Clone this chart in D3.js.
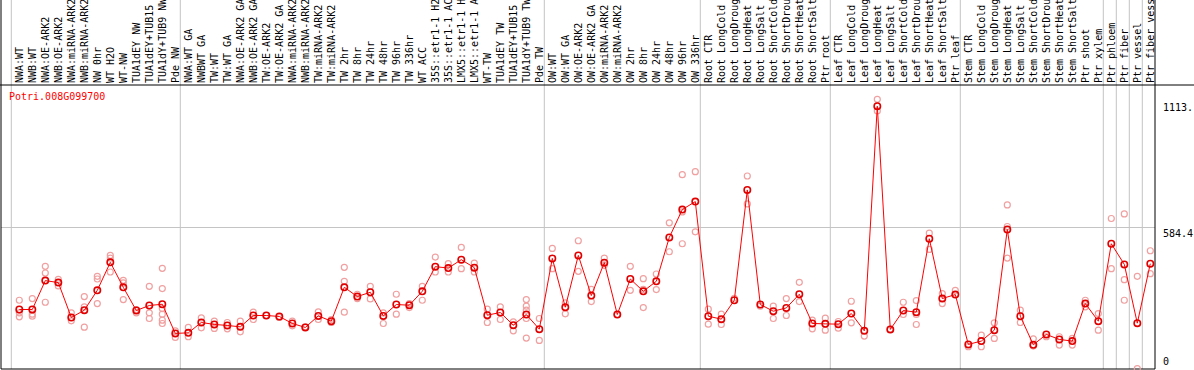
<!DOCTYPE html>
<html><head><meta charset="utf-8">
<script src="https://cdn.jsdelivr.net/npm/d3@7"></script>
<style>body{margin:0;background:#fff}svg{display:block}text{font-family:"DejaVu Sans Mono",monospace;font-size:10px}</style>
</head><body><svg id="c" width="1194" height="370"></svg>
<script>
const title = "Potri.008G099700";
const labels = ["NWA:WT","NWB:WT","NWA:OE-ARK2","NWB:OE-ARK2","NWA:miRNA-ARK2","NWB:miRNA-ARK2","NW 0hr","WT H2O","WT-NW","TUA1dEY NW","TUA1dEY+TUB15","TUA1dY+TUB9 NW","Pde NW",
"NWA:WT GA","NWBWT GA","TW:WT","TW:WT GA","NWA:OE-ARK2 GA","NWB:OE-ARK2 GA","TW:OE-ARK2","TW:OE-ARK2 GA","NWA:miRNA-ARK2","NWB:miRNA-ARK2","TW:miRNA-ARK2","TW:miRNA-ARK2","TW 2hr","TW 8hr","TW 24hr","TW 48hr","TW 96hr","TW 336hr","WT ACC","35S::etr1-1 H2","35S::etr1-1 AC","LMX5::etr1-1 H","LMX5::etr1-1 A","WT-TW","TUA1dEY TW","TUA1dEY+TUB15","TUA1dY+TUB9 TW","Pde TW",
"OW:WT","OW:WT GA","OW:OE-ARK2","OW:OE-ARK2 GA","OW:miRNA-ARK2","OW:miRNA-ARK2","OW 2hr","OW 8hr","OW 24hr","OW 48hr","OW 96hr","OW 336hr",
"Root CTR","Root LongCold","Root LongDroug","Root LongHeat","Root LongSalt","Root ShortCold","Root ShortDrou","Root ShortHeat","Root ShortSalt","Ptr root",
"Leaf CTR","Leaf LongCold","Leaf LongDroug","Leaf LongHeat","Leaf LongSalt","Leaf ShortCold","Leaf ShortDrou","Leaf ShortHeat","Leaf ShortSalt","Ptr leaf",
"Stem CTR","Stem LongCold","Stem LongDroug","Stem LongHeat","Stem LongSalt","Stem ShortCold","Stem ShortDrou","Stem ShortHeat","Stem ShortSalt","Ptr shoot","Ptr xylem","Ptr phloem","Ptr fiber","Ptr vessel","Ptr fiber vess"];
const means = [245.7,245.7,365.1,356.8,212.8,242.8,325.1,440.4,337.5,241.6,262.2,267.5,146.9,
149.4,192.2,184.0,179.9,174.1,221.0,221.0,216.9,188.1,171.6,219.4,197.5,337.5,299.2,316.9,219.4,266.3,263.4,321.0,422.7,416.9,451.5,418.6,222.2,233.4,181.1,225.1,164.6,
456.8,255.2,469.2,303.3,439.1,225.1,371.6,321.0,362.2,543.3,658.5,691.4,
218.1,205.8,284.0,739.6,266.3,238.7,252.3,308.7,188.1,186.4,
185.2,229.2,157.6,1085.3,163.4,241.6,234.6,537.9,291.0,307.4,
101.7,115.2,160.5,576.2,218.1,100.0,142.8,122.2,115.2,270.4,197.5,517.3,432.1,189.3,435.0];
const replicates = [[284.0,231.8,215.4],[290.8,226.4,218.1],[423.9,396.5,275.7],[370.4,343.0],[231.8,198.9],[299.0,256.6,172.9],[382.8,371.8,270.2],[469.2,458.2,400.6],[366.3,355.3,286.7],[245.5,231.8],[341.6,231.8,208.5],[415.7,332.0,249.6,226.4,201.7,187.9],[157.8,130.3],
[171.5,133.1],[211.2,170.1],[197.5,167.4],[192.1,166.0],[197.5,153.6],[234.6,204.4],[220.9],[212.7],[197.5,178.3],[174.2],[236.0,204.4],[204.4,192.1],[419.8,362.2,234.6],[308.7,290.8],[341.6,289.5],[231.8,187.9],[308.7,226.4],[270.2,253.8],[341.6,284.0],[462.3,400.6],[434.9,400.6],[502.1,414.3],[437.6,400.6],[246.9,192.1],[256.6,204.4],[194.8,157.8],[286.7,259.3,242.8,208.5,127.6],[208.5,118.0],
[498.0,414.3],[273.0,227.7],[529.6,403.3],[329.2,278.5],[458.2,428.0],[225.0],[423.9,325.1],[373.1,329.2,253.8],[392.3,327.9],[603.6,484.3],[802.5,648.9,517.2],[814.9,566.6],
[246.9,185.2],[226.4,183.8],[292.2],[797.1,681.8],[259.3],[259.3,208.5],[290.8,220.9],[358.1,278.5],[201.7,166.0],[209.9,160.5],
[196.1,168.7],[279.9,190.7],[135.8],[1113.9,1065.9],[163.4],[275.7,225.0],[282.6,225.0,183.8],[561.1,493.9],[311.4,270.2],[325.1],
[91.9],[139.9,91.9],[190.7,126.2],[677.7,588.5,458.2],[242.8,192.1],[124.8,94.7],[133.1],[133.1,98.8],[126.2,98.8],[284.0,256.6],[229.1,160.5],[621.5,414.3],[640.6,369.0,284.0],[382.8,1.4],[488.4,393.7]];
const groupStarts = [0,13,41,53,63,73,84,85,86,87];
const yTicks = [0,584.4,1113.9];
const yTickLabels = ["0","584.4","1113."];
const yMax = 1168.8;

const svg = d3.select("#c");
const L = 1, R = 1155, T = 85, B = 369;
const x = d3.scalePoint().domain(d3.range(labels.length)).range([19.3, 19.3 + 13*(labels.length-1)]);
const y = d3.scaleLinear().domain([0, yMax]).range([B, 86]);

// grid
svg.append("g").selectAll("line").data(groupStarts).join("line")
  .attr("x1", d => x(d) - 8).attr("x2", d => x(d) - 8)
  .attr("y1", 0).attr("y2", B).attr("stroke", "#c4c4c4").attr("stroke-width", 1);
svg.append("line").attr("x1", L).attr("x2", R).attr("y1", y(584.4)).attr("y2", y(584.4))
  .attr("stroke", "#c4c4c4").attr("stroke-width", 1);

// frame
svg.append("line").attr("x1", L).attr("x2", L).attr("y1", 0).attr("y2", B).attr("stroke", "#000");
svg.append("line").attr("x1", R).attr("x2", R).attr("y1", 0).attr("y2", B).attr("stroke", "#000");
svg.append("line").attr("x1", 0).attr("x2", 1194).attr("y1", T).attr("y2", T).attr("stroke", "#000");
svg.append("line").attr("x1", L).attr("x2", R).attr("y1", B).attr("y2", B).attr("stroke", "#000");

// column labels
svg.append("g").selectAll("text").data(labels).join("text")
  .attr("transform", (d, i) => `translate(${x(i)},83) rotate(-90)`)
  .attr("dy", "0.35em").attr("fill", "#000").text(d => d);

// y tick labels
svg.append("g").selectAll("text").data(yTicks).join("text")
  .attr("x", 1163)
  .attr("y", d => d === 0 ? y(d) - 4 : y(d) + (d > 1000 ? 5 : 2))
  .attr("dominant-baseline", d => d === 0 ? "alphabetic" : "hanging")
  .attr("fill", "#000")
  .text((d, i) => yTickLabels[i]);

// title
svg.append("text").attr("x", 9).attr("y", 100).attr("fill", "#ff0000").text(title);

// replicates
const reps = [];
replicates.forEach((arr, i) => arr.forEach(v => reps.push({i, v})));
svg.append("g").selectAll("circle").data(reps).join("circle")
  .attr("cx", d => x(d.i)).attr("cy", d => y(d.v)).attr("r", 3)
  .attr("fill", "none").attr("stroke", "#f0a0a0").attr("stroke-width", 1.2);

// mean line
svg.append("path").datum(means)
  .attr("d", d3.line().x((d, i) => x(i)).y(d => y(d)))
  .attr("fill", "none").attr("stroke", "#ff0000").attr("stroke-width", 1);

// mean points
svg.append("g").selectAll("circle").data(means).join("circle")
  .attr("cx", (d, i) => x(i)).attr("cy", d => y(d)).attr("r", 3.2)
  .attr("fill", "none").attr("stroke", "#e00000").attr("stroke-width", 1.6);
</script></body></html>
